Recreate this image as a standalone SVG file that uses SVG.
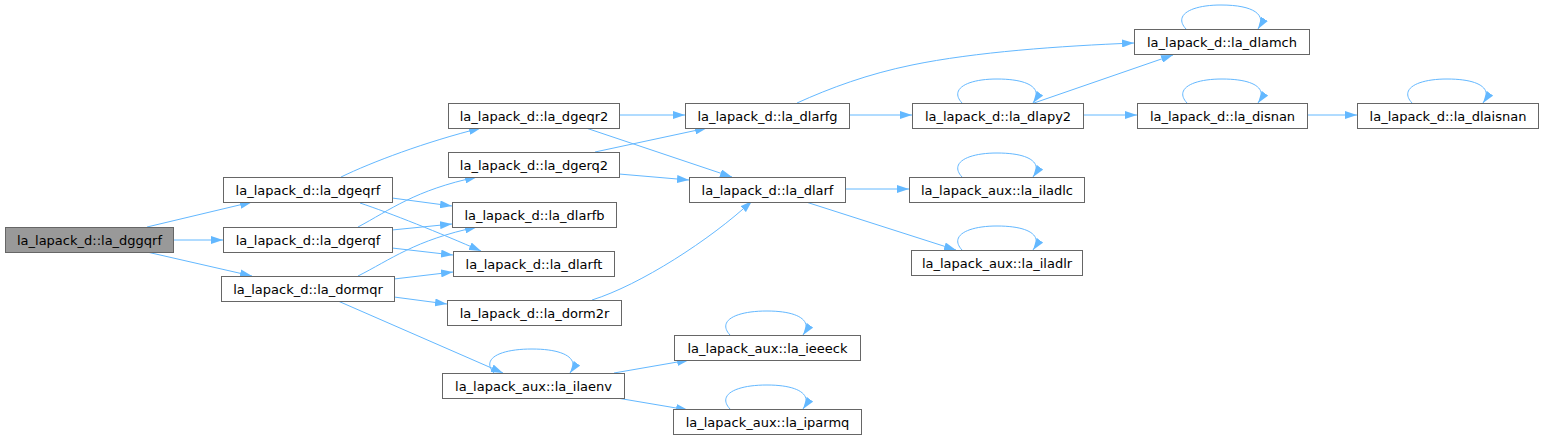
<svg xmlns="http://www.w3.org/2000/svg" width="1544" height="440" viewBox="0 0 1544 440">
<style>
.n rect{fill:#ffffff;stroke:#666666;stroke-width:1}
.n.main rect{fill:#999999}
.n text{font-family:"DejaVu Sans","Liberation Sans",sans-serif;font-size:13px;fill:#000000;text-anchor:middle}
.e path{fill:none;stroke:#63b8ff;stroke-width:1;marker-end:url(#arr)}
</style>
<defs>
<marker id="arr" viewBox="0 0 12 8" refX="12" refY="4" markerWidth="12" markerHeight="8" markerUnits="userSpaceOnUse" orient="auto">
<path d="M0,0 L12,4 L0,8 z" fill="#63b8ff"/>
</marker>
</defs>
<rect width="1544" height="440" fill="#ffffff"/>
<g id="edges" class="e">
<path d="M147,227 L252,202"/>
<path d="M173,240 L223,240"/>
<path d="M147,252 L252,276"/>
<path d="M341,177 C372,162 425,142 481,128"/>
<path d="M392,198 L452,206"/>
<path d="M360,203 C390,213 440,233 481,251"/>
<path d="M358,227 C390,210 415,190 477,177"/>
<path d="M392,230 L452,224"/>
<path d="M392,248 L453,255"/>
<path d="M358,276 C390,260 415,240 477,227"/>
<path d="M394,279 L453,272"/>
<path d="M394,297 L447,304"/>
<path d="M338,301 L503,373"/>
<path d="M619,115 L685,115"/>
<path d="M586,128 L732,177"/>
<path d="M595,152 L707,128"/>
<path d="M619,174 L689,180"/>
<path d="M592,300 C640,285 710,240 752,201"/>
<path d="M797,103 C830,88 868,74 912,65 C975,52 1060,46 1134,43"/>
<path d="M849,115 L912,115"/>
<path d="M1034,103 L1173,55"/>
<path d="M1083,115 L1137,115"/>
<path d="M1307,115 L1357,115"/>
<path d="M845,189 L909,189"/>
<path d="M806,202 L956,250"/>
<path d="M614,373 L689,360"/>
<path d="M617,398 L688,410"/>
<path d="M962,103 C949,89 967,79 997,79 C1030,79 1043,89 1033,103"/>
<path d="M1186,29 C1173,15 1191,5 1221,5 C1254,5 1267,15 1258,29"/>
<path d="M1187,103 C1174,89 1192,79 1222,79 C1255,79 1268,89 1258,103"/>
<path d="M1412,103 C1399,89 1417,79 1447,79 C1480,79 1493,89 1483,103"/>
<path d="M962,177 C949,163 967,153 997,153 C1030,153 1043,163 1033,177"/>
<path d="M962,250 C949,236 967,226 997,226 C1030,226 1043,236 1033,250"/>
<path d="M494,373 C481,359 499,349 532,349 C565,349 580,359 570,373"/>
<path d="M730,335 C717,321 735,311 767,311 C799,311 813,321 803,335"/>
<path d="M730,409 C717,395 735,385 767,385 C799,385 813,395 803,409"/>
</g>
<g id="n_dggqrf" class="n main"><rect x="5.5" y="227.5" width="168" height="25"/><text x="89.5" y="244.5">la_lapack_d::la_dggqrf</text></g>
<g id="n_dgeqrf" class="n"><rect x="223.5" y="177.5" width="169" height="25"/><text x="308" y="194.5">la_lapack_d::la_dgeqrf</text></g>
<g id="n_dgerqf" class="n"><rect x="223.5" y="227.5" width="169" height="25"/><text x="308" y="244.5">la_lapack_d::la_dgerqf</text></g>
<g id="n_dormqr" class="n"><rect x="221.5" y="276.5" width="173" height="25"/><text x="308" y="293.5">la_lapack_d::la_dormqr</text></g>
<g id="n_dgeqr2" class="n"><rect x="448.5" y="103.5" width="171" height="25"/><text x="534" y="120.5">la_lapack_d::la_dgeqr2</text></g>
<g id="n_dgerq2" class="n"><rect x="448.5" y="152.5" width="171" height="25"/><text x="534" y="169.5">la_lapack_d::la_dgerq2</text></g>
<g id="n_dlarfb" class="n"><rect x="452.5" y="202.5" width="164" height="25"/><text x="534.5" y="219.5">la_lapack_d::la_dlarfb</text></g>
<g id="n_dlarft" class="n"><rect x="453.5" y="251.5" width="161" height="25"/><text x="534" y="268.5">la_lapack_d::la_dlarft</text></g>
<g id="n_dorm2r" class="n"><rect x="447.5" y="300.5" width="174" height="25"/><text x="534.5" y="317.5">la_lapack_d::la_dorm2r</text></g>
<g id="n_ilaenv" class="n"><rect x="442.5" y="373.5" width="182" height="25"/><text x="533.5" y="390.5">la_lapack_aux::la_ilaenv</text></g>
<g id="n_dlarfg" class="n"><rect x="685.5" y="103.5" width="164" height="25"/><text x="767.5" y="120.5">la_lapack_d::la_dlarfg</text></g>
<g id="n_dlarf" class="n"><rect x="689.5" y="177.5" width="156" height="25"/><text x="767.5" y="194.5">la_lapack_d::la_dlarf</text></g>
<g id="n_ieeeck" class="n"><rect x="674.5" y="335.5" width="186" height="25"/><text x="767.5" y="352.5">la_lapack_aux::la_ieeeck</text></g>
<g id="n_iparmq" class="n"><rect x="673.5" y="409.5" width="188" height="25"/><text x="767.5" y="426.5">la_lapack_aux::la_iparmq</text></g>
<g id="n_dlapy2" class="n"><rect x="912.5" y="103.5" width="171" height="25"/><text x="998" y="120.5">la_lapack_d::la_dlapy2</text></g>
<g id="n_iladlc" class="n"><rect x="909.5" y="177.5" width="175" height="25"/><text x="997" y="194.5">la_lapack_aux::la_iladlc</text></g>
<g id="n_iladlr" class="n"><rect x="911.5" y="250.5" width="171" height="25"/><text x="997" y="267.5">la_lapack_aux::la_iladlr</text></g>
<g id="n_dlamch" class="n"><rect x="1134.5" y="29.5" width="175" height="25"/><text x="1222" y="46.5">la_lapack_d::la_dlamch</text></g>
<g id="n_disnan" class="n"><rect x="1137.5" y="103.5" width="170" height="25"/><text x="1222.5" y="120.5">la_lapack_d::la_disnan</text></g>
<g id="n_dlaisnan" class="n"><rect x="1357.5" y="103.5" width="181" height="25"/><text x="1448" y="120.5">la_lapack_d::la_dlaisnan</text></g>
</svg>
